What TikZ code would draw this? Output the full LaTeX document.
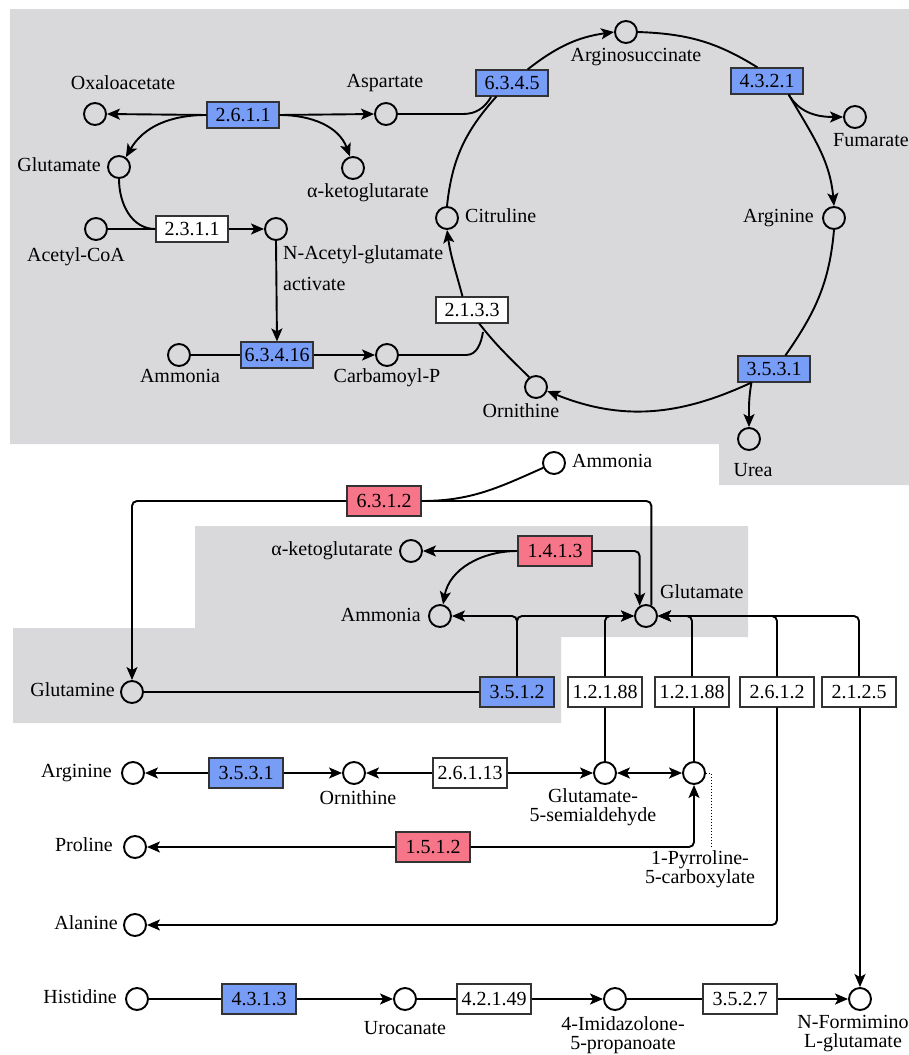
\documentclass[tikz,border=0pt]{standalone}
\usepackage{fontspec}
\setmainfont{Liberation Serif}
\usetikzlibrary{arrows.meta,calc}
\definecolor{bgray}{HTML}{D9D9DB}
\definecolor{ecblue}{HTML}{789DF7}
\definecolor{ecpink}{HTML}{F77589}
\newcommand\mylblfont{\fontsize{20}{19}\selectfont}
\tikzset{
 cpd/.style={draw, circle, minimum size=22pt, inner sep=0pt, line width=1.9pt},
 ec/.style={draw=black!80, line width=1.1pt, minimum width=72pt, minimum height=26pt, inner sep=0pt, font=\mylblfont},
 ecb/.style={ec, fill=ecblue},
 ecp/.style={ec, fill=ecpink},
 ecw/.style={ec, fill=white},
 ecL/.style={minimum width=74pt, minimum height=30pt},
 lbl/.style={inner sep=0pt, font=\mylblfont, text height=13pt, text depth=4pt},
 mlbl/.style={inner sep=0pt, font=\mylblfont, align=center},
 ln/.style={line width=1.9pt},
 ar/.style={ln, -{Stealth[length=13pt,width=11pt,inset=3pt]}},
 dar/.style={ln, {Stealth[length=13pt,width=11pt,inset=3pt]}-{Stealth[length=13pt,width=11pt,inset=3pt]}},
 rc/.style={rounded corners=5pt},
}
\begin{document}
\begin{tikzpicture}[x=1pt,y=1pt]
\useasboundingbox (0,0) rectangle (909,-1055);
% backgrounds
\fill[bgray] (10,-9) -- (909,-9) -- (909,-485) -- (719,-485) -- (719,-444) -- (10,-444) -- cycle;
\fill[bgray] (195,-526) -- (748,-526) -- (748,-637) -- (561,-637) -- (561,-723) -- (13,-723) -- (13,-628) -- (195,-628) -- cycle;

% ---------- top section ----------
\node[cpd] (oxa) at (95,-114) {};
\node[lbl] (oxal) at (123,-85) {Oxaloacetate};
\node[ecb] (e2611) at (243,-115) {2.6.1.1};
\node[cpd] (asp) at (386,-114) {};
\node[lbl] (aspl) at (385,-83) {Aspartate};
\node[cpd] (glu1) at (119,-167) {};
\node[lbl, anchor=east] (glu1l) at (101,-167) {Glutamate};
\node[cpd] (akg1) at (353,-168) {};
\node[lbl] (akg1l) at (368,-193) {α-ketoglutarate};
\node[cpd] (acoa) at (96,-229) {};
\node[lbl] (acoal) at (76,-257) {Acetyl-CoA};
\node[ecw] (e2311) at (192,-229) {2.3.1.1};
\node[cpd] (nag) at (276,-229) {};
\node[lbl, anchor=west] (nagl) at (283,-255) {N-Acetyl-glutamate};
\node[lbl, anchor=west] (actl) at (283,-286) {activate};
\node[ecb] (e63416) at (277,-355) {6.3.4.16};
\node[cpd] (amm1) at (179,-355) {};
\node[lbl] (amm1l) at (180,-378) {Ammonia};
\node[cpd] (carb) at (387,-355) {};
\node[lbl] (carbl) at (387,-378) {Carbamoyl-P};

% urea cycle
\node[cpd] (args) at (626,-32) {};
\node[lbl] (argsl) at (636,-57) {Arginosuccinate};
\node[ecb] (e6345) at (512,-83) {6.3.4.5};
\node[ecb] (e4321) at (767,-81) {4.3.2.1};
\node[cpd] (fum) at (855,-117) {};
\node[lbl, anchor=west] (fuml) at (833,-142) {Fumarate};
\node[cpd] (cit) at (447,-218) {};
\node[lbl, anchor=west] (citl) at (465,-218) {Citruline};
\node[cpd] (arg) at (834,-218) {};
\node[lbl, anchor=east] (argl) at (814,-218) {Arginine};
\node[ecb] (e3531) at (774,-369) {3.5.3.1};
\node[cpd] (urea) at (749,-439) {};
\node[lbl] (ureal) at (753,-472) {Urea};
\node[ecw] (e2133) at (472,-310) {2.1.3.3};
\node[cpd] (orn) at (536,-387) {};
\node[lbl] (ornl) at (521,-413) {Ornithine};

\coordinate (aspk) at (463,-114);
\coordinate (aspj) at (491,-97);
\coordinate (carbk) at (466,-355);
\coordinate (carbj) at (483,-332);

% top connectors
\draw[ar] (e2611.west) -- (oxa.east);
\draw[ar] (e2611.east) -- (asp.west);
\draw[ar] (e2611.west) to[out=180,in=60] (glu1.55);
\draw[ar] (e2611.east) to[out=0,in=110] (akg1.105);
\draw[ln] (glu1.south) to[out=-90,in=180] (e2311.west);
\draw[ln] (acoa.east) -- (e2311.west);
\draw[ar] (e2311.east) -- (nag.west);
\draw[ar] (nag.south) -- (e63416.north);
\draw[ln] (amm1.east) -- (e63416.west);
\draw[ar] (e63416.east) -- (carb.west);

\draw[ln] (asp.east) -- (aspk) to[out=0,in=-120] (aspj);
\draw[ln] (carb.east) -- (carbk) to[out=0,in=-100] (carbj);
\draw[ln] (cit.north) to[out=84,in=-132] (e6345.221);
\draw[ar] (e6345.41) to[out=38,in=188] (args.west);
\draw[ln] (args.east) to[out=-2,in=148] (e4321.125);
\draw[ar] (e4321.-32) to[out=-60,in=95] (arg.north);
\draw[ar] (e4321.-32) to[out=-60,in=180] (fum.west);
\draw[ln] (arg.south) to[out=-95,in=55] (e3531.50);
\draw[ar] (e3531.211) to[out=205,in=-22] (orn.-20);
\draw[ar] (e3531.211) to[out=-100,in=90] (urea.north);
\draw[ln] (orn.125) to[out=135,in=-52] (e2133.-62);
\draw[ar] (e2133.125) to[out=105,in=-82] (cit.south);

% ---------- middle section ----------
\node[cpd] (amm2) at (554,-463) {};
\node[lbl, anchor=west] (amm2l) at (572,-463) {Ammonia};
\node[ecp, ecL] (e6312) at (384,-501) {6.3.1.2};
\node[ecp, ecL] (e1413) at (555,-551) {1.4.1.3};
\node[cpd] (akg2) at (411,-551) {};
\node[lbl, anchor=east] (akg2l) at (393,-551) {α-ketoglutarate};
\node[cpd] (amm3) at (440,-616) {};
\node[lbl, anchor=east] (amm3l) at (421,-617) {Ammonia};
\node[cpd] (glu2) at (646,-616) {};
\node[lbl, anchor=west] (glu2l) at (660,-594) {Glutamate};
\node[cpd] (gln) at (132,-692) {};
\node[lbl, anchor=east] (glnl) at (115,-692) {Glutamine};
\node[ecb, ecL] (e3512) at (517,-692) {3.5.1.2};
\node[ecw, ecL] (e12188a) at (605,-692) {1.2.1.88};
\node[ecw, ecL] (e12188b) at (692,-692) {1.2.1.88};
\node[ecw, ecL] (e2612) at (777,-692) {2.6.1.2};
\node[ecw, ecL] (e2125) at (859,-692) {2.1.2.5};

\draw[ar, rc] (e6312.west) -| (gln.north);
\draw[ln] (e6312.east) to[out=0,in=204] (amm2.204);
\draw[ln, rc] (e6312.east) -| (glu2.63);
\draw[ar] (e1413.west) -- (akg2.east);
\draw[ar] (e1413.west) to[out=180,in=80] (amm3.75);
\draw[ar, rc] (e1413.east) -| (glu2.122);
\draw[ar, rc] (e3512.north) |- (amm3.east);
\draw[ar, rc] (e3512.north) |- (glu2.west);
\draw[ar, rc] (e12188a.north) |- (glu2.west);
\draw[ar, rc] (e12188b.north) |- (glu2.east);
\draw[ar, rc] (e2612.north) |- (glu2.east);
\draw[ar, rc] (e2125.north) |- (glu2.east);
\draw[ln] (gln.east) -- (e3512.west);

% ---------- lower section ----------
\node[cpd] (argb) at (133,-773) {};
\node[lbl, anchor=east] (argbl) at (112,-773) {Arginine};
\node[ecb, ecL] (e3531b) at (246,-773) {3.5.3.1};
\node[cpd] (ornb) at (354,-773) {};
\node[lbl] (ornbl) at (358,-800) {Ornithine};
\node[ecw, ecL] (e26113) at (470,-773) {2.6.1.13};
\node[cpd] (g5s) at (605,-773) {};
\node[mlbl] (g5sl) at (593,-807) {Glutamate-\\5-semialdehyde};
\node[cpd] (p5c) at (694,-773) {};
\node[mlbl] (p5cl) at (700,-869) {1-Pyrroline-\\5-carboxylate};
\coordinate (p5cd) at (711,-847);
\node[cpd] (pro) at (135,-847) {};
\node[lbl, anchor=east] (prol) at (113,-847) {Proline};
\node[ecp, ecL] (e1512) at (433,-847) {1.5.1.2};
\node[cpd] (ala) at (135,-925) {};
\node[lbl, anchor=east] (alal) at (118,-925) {Alanine};
\node[cpd] (his) at (137,-999) {};
\node[lbl, anchor=east] (hisl) at (117,-999) {Histidine};
\node[ecb, ecL] (e4313) at (259,-999) {4.3.1.3};
\node[cpd] (uro) at (405,-999) {};
\node[lbl] (urol) at (405,-1030) {Urocanate};
\node[ecw, ecL] (e42149) at (494,-999) {4.2.1.49};
\node[cpd] (imid) at (615,-999) {};
\node[mlbl] (imidl) at (623,-1035) {4-Imidazolone-\\5-propanoate};
\node[ecw, ecL] (e3527) at (740,-999) {3.5.2.7};
\node[cpd] (nfg) at (860,-999) {};
\node[mlbl] (nfgl) at (853,-1034) {N-Formimino\\L-glutamate};

\draw[ar] (e3531b.west) -- (argb.east);
\draw[ar] (e3531b.east) -- (ornb.west);
\draw[ar] (e26113.west) -- (ornb.east);
\draw[ar] (e26113.east) -- (g5s.west);
\draw[dar] (g5s.east) -- (p5c.west);
\draw[ln] (e12188a.south -| g5s) -- (g5s.north);
\draw[ln] (e12188b.south -| p5c) -- (p5c.north);
\draw[dotted, line width=1pt] (p5c.east) -| (p5cd);
\draw[ar] (e1512.west) -- (pro.east);
\draw[ar, rc] (e1512.east) -| (p5c.south);
\draw[ar, rc] (e2612.south) |- (ala.east);
\draw[ar] (e2125.south -| nfg) -- (nfg.north);
\draw[ln] (his.east) -- (e4313.west);
\draw[ar] (e4313.east) -- (uro.west);
\draw[ln] (uro.east) -- (e42149.west);
\draw[ar] (e42149.east) -- (imid.west);
\draw[ln] (imid.east) -- (e3527.west);
\draw[ar] (e3527.east) -- (nfg.west);
\end{tikzpicture}
\end{document}
